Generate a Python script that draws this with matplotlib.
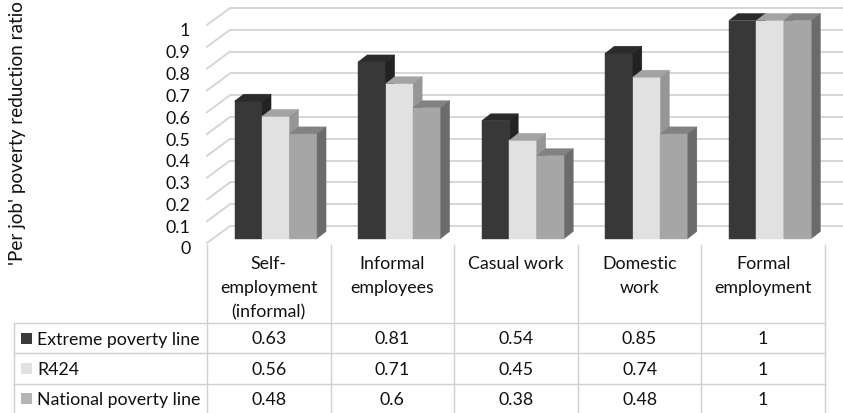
import matplotlib
matplotlib.use("Agg")
import matplotlib.pyplot as plt
import matplotlib.transforms as mtransforms
from matplotlib.patches import Polygon, Rectangle

# ---- data ----
categories = ["Self-\nemployment\n(informal)", "Informal\nemployees", "Casual work",
              "Domestic\nwork", "Formal\nemployment"]
series_names = ["Extreme poverty line", "R424", "National poverty line"]
extreme_poverty = [0.63, 0.81, 0.54, 0.85, 1]
r424 = [0.56, 0.71, 0.45, 0.74, 1]
national_poverty = [0.48, 0.6, 0.38, 0.48, 1]
y_ticks = [0, 0.1, 0.2, 0.3, 0.4, 0.5, 0.6, 0.7, 0.8, 0.9, 1]
y_label = "'Per job' poverty reduction ratio"

series_values = [extreme_poverty, r424, national_poverty]
# (front, top, side) shades for each series, plus the table key colour
series_shades = [("#383838", "#2a2a2a", "#222222"),
                 ("#e1e1e1", "#a3a3a3", "#969696"),
                 ("#a6a6a6", "#828282", "#6b6b6b")]
key_colors = ["#3a3a3a", "#e1e1e1", "#b5b5b5"]

# ---- layout (pixels) ----
W, H, DPI = 843, 413, 100
AX_L, AX_W = 207, 618          # plot / table category area
FRONT0, FRONT1 = 243, 25       # y of value 0 and 1 on the front plane
TABLE_L = 14
ROW_LINES = [323, 353, 384]
FS = 12.8
TXT = "#111111"

plt.rcParams['font.family'] = ['Lato', 'DejaVu Sans']
fig = plt.figure(figsize=(W / DPI, H / DPI), dpi=DPI)
ax = fig.add_axes([AX_L / W, (H - FRONT0) / H, AX_W / W, (FRONT0 - FRONT1) / H])
n = len(categories)
ax.set_xlim(-0.5, n - 0.5)
ax.set_ylim(0, 1)
ax.patch.set_visible(False)
for s in ax.spines.values():
    s.set_visible(False)
ax.set_xticks([])
ax.set_yticks(y_ticks)
ax.set_yticklabels([f"{t:g}" for t in y_ticks])
ax.tick_params(axis='y', length=0, pad=12, labelsize=FS, labelcolor=TXT)
shift = mtransforms.ScaledTranslation(0, -5 / DPI, fig.dpi_scale_trans)
for lab in ax.get_yticklabels():
    lab.set_transform(lab.get_transform() + shift)

sx = n / AX_W
sy = 1.0 / (FRONT0 - FRONT1)


def px(dx, dy):
    return dx * sx, dy * sy


# back wall and side wall gridlines
grid_c = "#d6d6d6"
Dx, Dy = px(23, 17)
for t in y_ticks:
    ax.plot([-0.5 + Dx, n - 0.5 + Dx], [t + Dy, t + Dy], color=grid_c, lw=1.4,
            clip_on=False, zorder=1, solid_capstyle='butt')
    ax.plot([-0.5, -0.5 + Dx], [t, t + Dy], color=grid_c, lw=1.4,
            clip_on=False, zorder=1)

# 3-D looking bars
fx, fy = px(7, 4.5)
bx, by = px(9, 7)
bw = 27.5 * sx
z = 2
for i in range(n):
    for j, vals in enumerate(series_values):
        v = vals[i]
        front_c, top_c, side_c = series_shades[j]
        x0 = i - 1.5 * bw + j * bw + fx
        x1 = x0 + bw
        y0 = fy
        y1 = v + fy
        faces = [
            ([(x0, y0), (x1, y0), (x1, y1), (x0, y1)], front_c),
            ([(x0, y1), (x1, y1), (x1 + bx, y1 + by), (x0 + bx, y1 + by)], top_c),
            ([(x1, y0), (x1 + bx, y0 + by), (x1 + bx, y1 + by), (x1, y1)], side_c),
        ]
        for pts, c in faces:
            ax.add_patch(Polygon(pts, closed=True, facecolor=c, edgecolor=c,
                                 lw=0.3, clip_on=False, zorder=z))
        z += 1

# y axis title
fig.text(18 / W, 1 - 133 / H, y_label, rotation=90, ha='center', va='center',
         fontsize=13.6, color=TXT)

# ---- data table ----
pix = mtransforms.Affine2D().scale(1 / W, -1 / H).translate(0, 1) + fig.transFigure
line_c = "#d0d0d0"
col_edges = [AX_L + AX_W * k / n for k in range(n + 1)]
for k, xe in enumerate(col_edges):
    fig.add_artist(plt.Line2D([xe, xe], [245, H + 2], transform=pix,
                              color=line_c, lw=1.0))
fig.add_artist(plt.Line2D([TABLE_L, TABLE_L], [ROW_LINES[0], H + 2], transform=pix,
                          color=line_c, lw=1.0))
for yl in ROW_LINES:
    fig.add_artist(plt.Line2D([TABLE_L, AX_L + AX_W], [yl, yl], transform=pix,
                              color=line_c, lw=1.0))

# category headers
for i, cat in enumerate(categories):
    xc = (col_edges[i] + col_edges[i + 1]) / 2
    fig.text(xc, 256, cat, transform=pix, ha='center', va='top', fontsize=FS,
             color=TXT, linespacing=1.62)

row_centers = [338, 368.5, 398.5]
for r, (name, vals) in enumerate(zip(series_names, series_values)):
    yc = row_centers[r]
    fig.add_artist(Rectangle((21, yc - 5.5), 11, 11, transform=pix,
                             facecolor=key_colors[r], edgecolor='none'))
    fig.text(37, yc, name, transform=pix, ha='left', va='center_baseline',
             fontsize=FS, color=TXT)
    for i, v in enumerate(vals):
        xc = (col_edges[i] + col_edges[i + 1]) / 2
        fig.text(xc, yc, f"{v:g}", transform=pix, ha='center', va='center_baseline',
                 fontsize=FS, color=TXT)

fig.savefig("out.png", dpi=DPI)
